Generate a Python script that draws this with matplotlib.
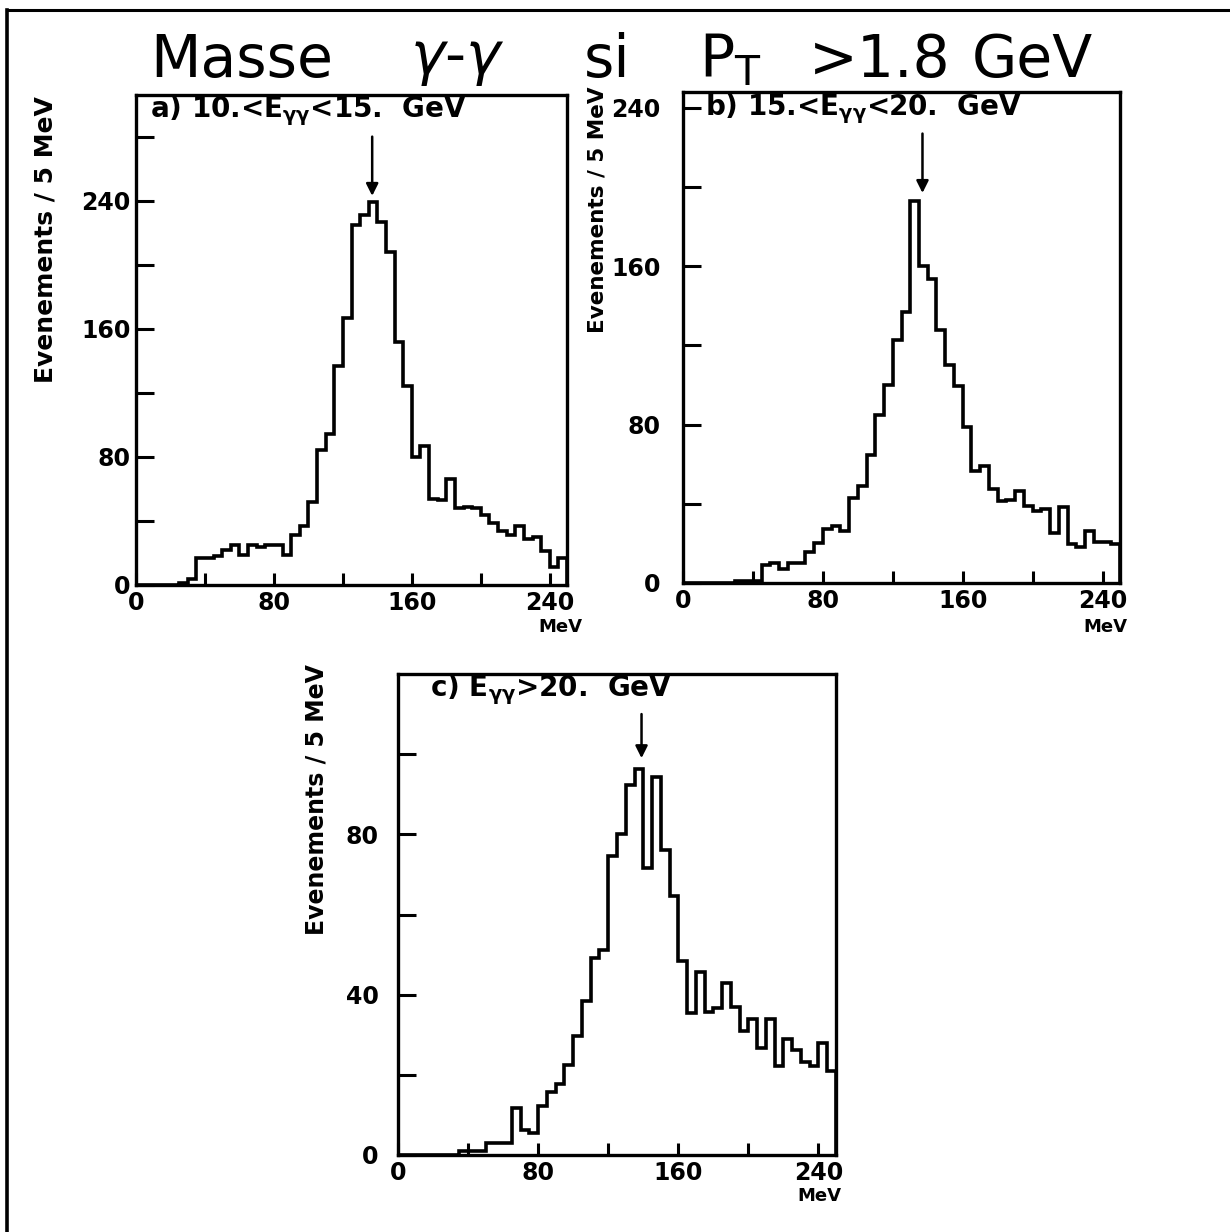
import numpy as np
import matplotlib
matplotlib.use("Agg")
import matplotlib.pyplot as plt
from matplotlib.lines import Line2D

# ---------------- data (counts per 5 MeV bin, 0..250 MeV) ----------------
bin_edges = np.arange(0, 255, 5)

counts_a = [0, 0, 0, 0, 0, 1, 4, 17, 17, 18,
            22, 25, 19, 25, 24, 25, 25, 19, 31, 37,
            52, 84, 94, 137, 167, 225, 231, 239, 227, 208,
            152, 124, 80, 87, 54, 53, 66, 48, 49, 48,
            44, 39, 34, 31, 37, 29, 30, 21, 11, 17]

counts_b = [0, 0, 0, 0, 0, 0, 1, 1, 1, 9,
            10, 7, 10, 10, 15.5, 20, 27.5, 29, 26.5, 43,
            49, 64.5, 85, 100, 122.5, 137, 193, 160, 153.5, 128,
            110, 99.5, 79, 56.5, 59, 47.5, 41.5, 42, 46.5, 39,
            36.5, 37.5, 25.5, 38.5, 19.5, 18, 26.5, 20.5, 20.5, 19.5]

counts_c = [0, 0, 0, 0, 0, 0, 0, 1, 1, 1,
            3, 3, 3, 11.7, 6.3, 5.6, 12.1, 15.8, 17.8, 22.5,
            29.6, 38.3, 49.2, 51.2, 74.7, 80, 92.2, 96.4, 71.5, 94.3,
            76, 64.7, 48.5, 35.5, 45.7, 35.7, 36.7, 42.8, 37, 31,
            33.9, 26.8, 33.9, 22.2, 29, 26.3, 23.1, 22.3, 28, 21]

panel_labels = [r"a) 10.<E$_{\gamma\gamma}$<15.  GeV",
                r"b) 15.<E$_{\gamma\gamma}$<20.  GeV",
                r"c) E$_{\gamma\gamma}$>20.  GeV"]
title_words = ["Masse", r"$\mathit{\gamma}$-$\mathit{\gamma}$", "si", r"P$_{\rm T}$", ">1.8", "GeV"]
arrow_x = [137, 137, 139]
arrow_y = [(280, 243), (227, 197), (110, 99)]
ylims = [306, 248, 120]
yticks = [np.arange(0, 300, 40), np.arange(0, 260, 40), np.arange(0, 120, 20)]
ylabels_shown = [[0, 80, 160, 240], [0, 80, 160, 240], [0, 40, 80]]
xticks = np.arange(0, 250, 40)
xlabels_shown = [0, 80, 160, 240]

# ---------------- figure ----------------
plt.rcParams["mathtext.default"] = "regular"
fig = plt.figure(figsize=(12.3, 12.32), dpi=100)
fig.patch.set_facecolor("white")

rects = [
    [136 / 1230, 1 - 585 / 1232, 431 / 1230, 490 / 1232],
    [683 / 1230, 1 - 583 / 1232, 437 / 1230, 491 / 1232],
    [398 / 1230, 1 - 1155 / 1232, 438 / 1230, 481 / 1232],
]
ylabel_pos = [(-0.209, 0.704), (-0.195, 0.76), (-0.187, 0.738)]
ylabel_size = [18, 15.5, 17]
label_pos = [(0.032, 0.968), (0.05, 0.967), (0.073, 0.967)]
mev_pos = [(0.984, -0.086), (0.966, -0.09), (0.963, -0.085)]
ypads = [4, 16, 14]

tick_font = dict(family="DejaVu Sans", weight="bold", size=17)

for i, counts in enumerate([counts_a, counts_b, counts_c]):
    ax = fig.add_axes(rects[i])
    ax.stairs(counts, bin_edges, color="black", lw=2.6, baseline=0)
    ax.set_xlim(0, 250)
    ax.set_ylim(0, ylims[i])
    for s in ax.spines.values():
        s.set_linewidth(2.4)
    ax.set_xticks(xticks)
    ax.set_xticklabels([str(t) if t in xlabels_shown else "" for t in xticks],
                       fontdict=tick_font)
    ax.set_yticks(yticks[i])
    ax.set_yticklabels([str(t) if t in ylabels_shown[i] else "" for t in yticks[i]],
                       fontdict=tick_font)
    ax.tick_params(axis="x", direction="in", length=9, width=2.2, pad=4)
    ax.tick_params(axis="y", direction="in", length=13, width=2.2, pad=ypads[i])
    ax.text(label_pos[i][0], label_pos[i][1], panel_labels[i], transform=ax.transAxes,
            ha="left", va="center", fontsize=20, fontweight="bold", family="DejaVu Sans")
    ax.text(ylabel_pos[i][0], ylabel_pos[i][1], "Evenements / 5 MeV", transform=ax.transAxes,
            rotation=90, ha="center", va="center", fontsize=ylabel_size[i], fontweight="bold",
            family="DejaVu Sans")
    ax.text(mev_pos[i][0], mev_pos[i][1], "MeV", transform=ax.transAxes,
            ha="center", va="center", fontsize=13, fontweight="bold", family="DejaVu Sans")
    ax.annotate("", xy=(arrow_x[i], arrow_y[i][1]), xytext=(arrow_x[i], arrow_y[i][0]),
                arrowprops=dict(arrowstyle="-|>", color="black", lw=1.8,
                                mutation_scale=18, shrinkA=0, shrinkB=0))

# title, word by word to reproduce the wide spacing of the original lettering
title_x = [242, 457, 607, 730, 880, 1032]
for w, xp in zip(title_words, title_x):
    fig.text(xp / 1230, 1 - 60 / 1232, w, ha="center", va="center",
             fontsize=42, family="DejaVu Sans")

# page frame lines (top and left)
fig.add_artist(Line2D([7 / 1230, 1.0], [1 - 10 / 1232, 1 - 10 / 1232],
                      transform=fig.transFigure, color="black", lw=2.2))
fig.add_artist(Line2D([7 / 1230, 7 / 1230], [0.0, 1 - 10 / 1232],
                      transform=fig.transFigure, color="black", lw=2.6))

fig.savefig("out.png", dpi=100, facecolor="white")
